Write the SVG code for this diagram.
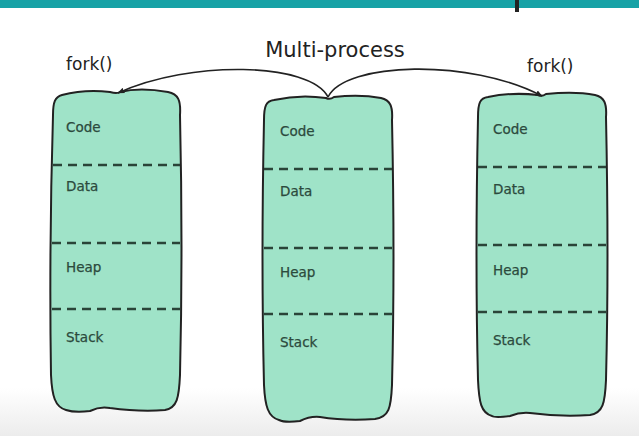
<svg xmlns="http://www.w3.org/2000/svg" width="639" height="436" viewBox="0 0 639 436">
<defs>
<linearGradient id="bg" x1="0" y1="0" x2="0" y2="1">
<stop offset="0" stop-color="#ffffff"/>
<stop offset="1" stop-color="#ececec"/>
</linearGradient>
<marker id="ah" viewBox="0 0 10 10" refX="9" refY="5" markerWidth="7" markerHeight="7" orient="auto-start-reverse" markerUnits="userSpaceOnUse">
<path d="M0,1 L10,5 L0,9 Z" fill="#222"/>
</marker>
<style>
.box{fill:#9fe3c8;stroke:#222;stroke-width:2;stroke-linejoin:round}
.dash{stroke:#2a4438;stroke-width:2.5;stroke-dasharray:9 6;fill:none}
.lbl{font-family:"DejaVu Sans",sans-serif;font-size:13.5px;fill:#2c4a3d;stroke:#2c4a3d;stroke-width:0.25}
.fork{font-family:"DejaVu Sans",sans-serif;font-size:17px;fill:#222}
.title{font-family:"DejaVu Sans",sans-serif;font-size:21px;fill:#222}
.conn{fill:none;stroke:#222;stroke-width:1.6}
</style>
</defs>
<rect x="0" y="0" width="639" height="436" fill="#ffffff"/>
<rect x="0" y="388" width="639" height="48" fill="url(#bg)"/>
<rect x="0" y="0" width="639" height="8" fill="#17a2a6"/>
<rect x="515" y="0" width="4" height="12" fill="#222"/>

<text class="title" x="335" y="57" text-anchor="middle">Multi-process</text>
<text class="fork" x="66" y="70">fork()</text>
<text class="fork" x="527" y="72">fork()</text>

<g id="proc-left">
<path class="box" d="M62,95 Q85,89 110,92 Q117,94 120,92 Q140,87 168,92 C178,94 181,100 180,115 Q183,250 180,375 C179,398 177,408 165,410 Q140,412 110,408 Q100,406 90,411 Q75,413 66,410 C55,407 52,396 51,375 Q49,250 53,115 C53,102 55,97 62,95 Z"/>
<line class="dash" x1="53" y1="165" x2="180" y2="165"/>
<line class="dash" x1="52" y1="243" x2="180" y2="243"/>
<line class="dash" x1="52" y1="309" x2="180" y2="309"/>
<text class="lbl" x="66" y="132">Code</text>
<text class="lbl" x="66" y="191">Data</text>
<text class="lbl" x="66" y="272">Heap</text>
<text class="lbl" x="66" y="342">Stack</text>
</g>

<g id="proc-middle">
<path class="box" d="M274,100 Q300,94 326,98 Q330,100 334,97 Q360,94 381,98 C390,100 393,106 392,120 Q395,260 392,385 C391,408 389,417 375,419 Q345,421 320,417 Q310,416 300,421 Q285,423 279,420 C268,417 265,406 264,385 Q261,260 264,120 C264,106 266,101 274,100 Z"/>
<line class="dash" x1="264" y1="169" x2="392" y2="169"/>
<line class="dash" x1="264" y1="248" x2="392" y2="248"/>
<line class="dash" x1="264" y1="314" x2="392" y2="314"/>
<text class="lbl" x="280" y="136">Code</text>
<text class="lbl" x="280" y="196">Data</text>
<text class="lbl" x="280" y="277">Heap</text>
<text class="lbl" x="280" y="347">Stack</text>
</g>

<g id="proc-right">
<path class="box" d="M488,97 Q512,92 538,95 Q542,97 546,94 Q575,91 595,95 C604,97 607,103 606,117 Q609,260 606,380 C605,403 603,413 590,415 Q560,417 530,413 Q520,412 510,416 Q495,418 492,416 C481,413 479,402 478,380 Q475,260 478,117 C478,103 480,98 488,97 Z"/>
<line class="dash" x1="478" y1="167" x2="606" y2="167"/>
<line class="dash" x1="478" y1="245" x2="606" y2="245"/>
<line class="dash" x1="478" y1="312" x2="606" y2="312"/>
<text class="lbl" x="493" y="134">Code</text>
<text class="lbl" x="493" y="194">Data</text>
<text class="lbl" x="493" y="275">Heap</text>
<text class="lbl" x="493" y="345">Stack</text>
</g>

<g id="connectors">
<path class="conn" d="M328,97 C310,62 190,60 118,93" marker-end="url(#ah)"/>
<path class="conn" d="M328,97 C345,62 470,58 542,96" marker-end="url(#ah)"/>
</g>
</svg>
